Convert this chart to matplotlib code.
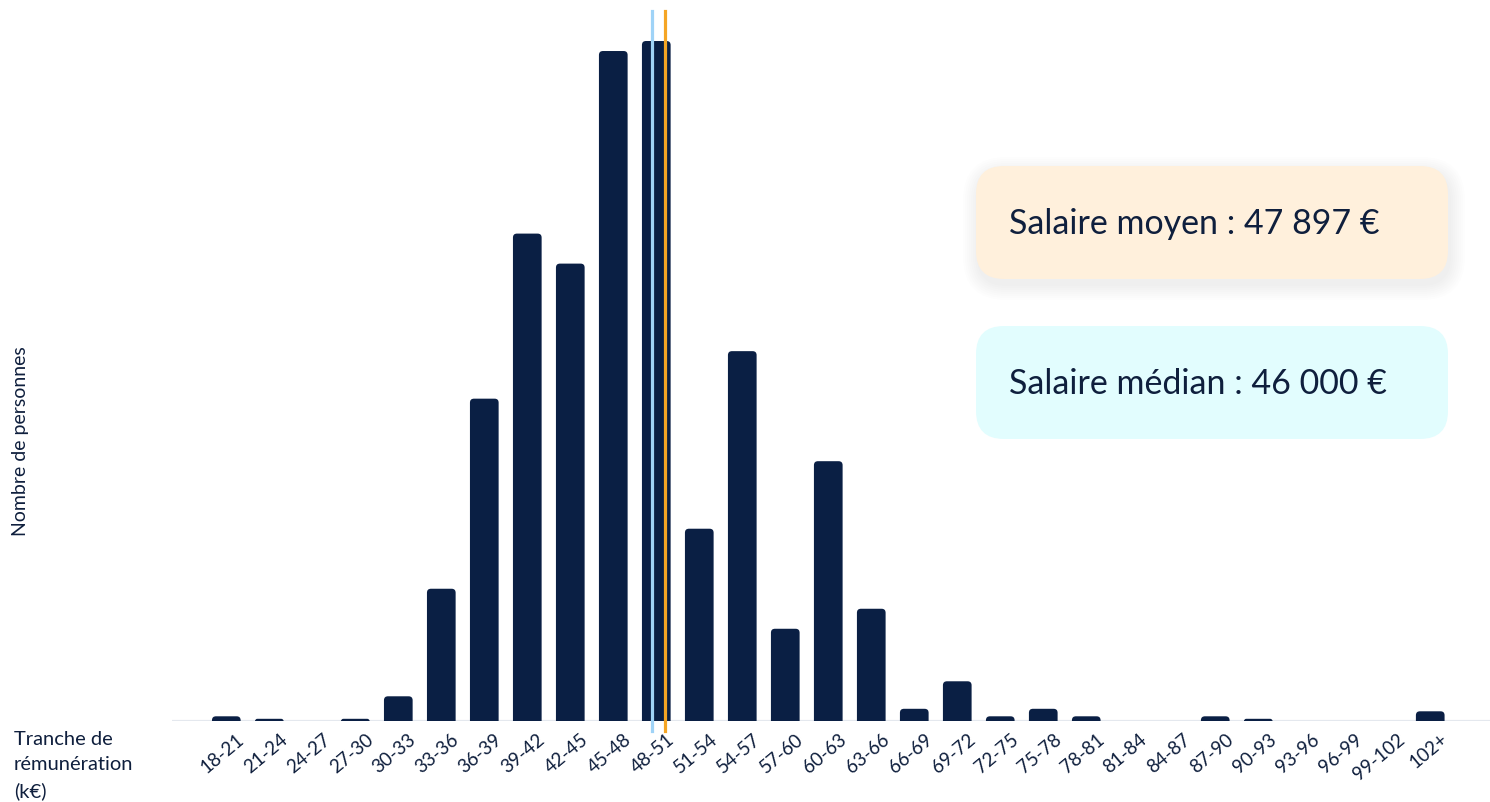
import matplotlib
matplotlib.use("Agg")
import matplotlib.pyplot as plt
from matplotlib.patches import FancyBboxPatch
from matplotlib.transforms import ScaledTranslation
import numpy as np

# ---------------- data ----------------
categories = ["18-21", "21-24", "24-27", "27-30", "30-33", "33-36", "36-39",
              "39-42", "42-45", "45-48", "48-51", "51-54", "54-57", "57-60",
              "60-63", "63-66", "66-69", "69-72", "72-75", "75-78", "78-81",
              "81-84", "84-87", "87-90", "90-93", "93-96", "96-99", "99-102",
              "102+"]
counts = [2, 1, 0, 1, 10, 53, 129, 195, 183, 268, 272, 77, 148, 37, 104, 45,
          5, 16, 2, 5, 2, 0, 0, 2, 1, 0, 0, 0, 4]
# positions of the reference lines on the category axis
median_pos = 9.89
mean_pos = 10.20
mean_label = "Salaire moyen : 47 897 €"
median_label = "Salaire médian : 46 000 €"
xlabel_text = "Tranche de\nrémunération\n(k€)"
ylabel_text = "Nombre de personnes"

# ---------------- style ----------------
NAVY = "#0a1f44"
TEXT = "#0f1f3d"
plt.rcParams['font.family'] = ['Lato', 'DejaVu Sans']

W, H = 1490, 803
fig = plt.figure(figsize=(W / 100, H / 100), dpi=100)
fig.patch.set_facecolor("white")

ax = fig.add_axes([172 / W, 1 - 722.3 / H, 1318 / W, 710.3 / H])
x = np.arange(len(categories))
bars = ax.bar(x, counts, width=0.667, color=NAVY)
ax.set_xlim(-1.263, 29.39)
ax.set_ylim(0, 284)

# rounded tops (bottom part is clipped at the baseline)
rx_full = 0.093
aspect = 17.2
for b in bars:
    h = b.get_height()
    b.set_visible(False)
    if h <= 0:
        continue
    x0, w = b.get_x(), b.get_width()
    ry = min(rx_full * aspect, h)
    rx = ry / aspect
    p = FancyBboxPatch((x0, -ry), w, h + ry,
                       boxstyle=f"round,pad=0,rounding_size={rx}",
                       mutation_aspect=aspect, fc=NAVY, ec="none", zorder=2)
    ax.add_patch(p)

for s in ax.spines.values():
    s.set_visible(False)
ax.axhline(0, color="#e4e8ee", lw=1.6, zorder=1)
ax.set_yticks([])
ax.set_xticks(x, categories)
ax.tick_params(axis="x", length=0, pad=6, labelsize=13.5, labelcolor=TEXT)
off = ScaledTranslation(10 / 100, 0, fig.dpi_scale_trans)
for lab in ax.get_xticklabels():
    lab.set_rotation(40)
    lab.set_ha("right")
    lab.set_va("top")
    lab.set_rotation_mode("anchor")
    lab.set_transform(lab.get_transform() + off)

# mean / median lines
ext = 10 / 710.3
ax.axvline(median_pos, ymin=-ext, ymax=1, color="#9fd3f7", lw=2.3,
           clip_on=False, zorder=4)
ax.axvline(mean_pos, ymin=-ext, ymax=1, color="#f5a524", lw=2.3,
           clip_on=False, zorder=4)

# axis texts
fig.text(14 / W, 1 - 731 / H, xlabel_text, ha="left", va="top",
         fontsize=14.5, linespacing=1.6, color=TEXT)
fig.text(21 / W, 1 - 441 / H, ylabel_text, ha="center", va="center",
         rotation=90, fontsize=14, color=TEXT)

# overlay for the info boxes (pixel coordinates)
ov = fig.add_axes([0, 0, 1, 1], zorder=5)
ov.set_xlim(0, W)
ov.set_ylim(H, 0)
ov.axis("off")
ov.patch.set_alpha(0)


def info_box(y0, fc, label, shadow):
    bx, bw, bh = 976, 472, 113
    if shadow:
        for i in range(8):
            g = 1 + i * 2.0
            ov.add_patch(FancyBboxPatch((bx - g + 2, y0 - g + 6), bw + 2 * g, bh + 2 * g,
                                        boxstyle=f"round,pad=0,rounding_size={28 + g}",
                                        fc="#000000", ec="none", alpha=0.006))
    ov.add_patch(FancyBboxPatch((bx, y0), bw, bh,
                                boxstyle="round,pad=0,rounding_size=28",
                                fc=fc, ec="none"))
    ov.text(bx + 33, y0 + bh / 2 + 1, label, ha="left", va="center",
            fontsize=24.5, color=TEXT)


info_box(167, "#fff0dc", mean_label, True)
info_box(327, "#e2fdfe", median_label, False)

fig.savefig("out.png", dpi=100)
